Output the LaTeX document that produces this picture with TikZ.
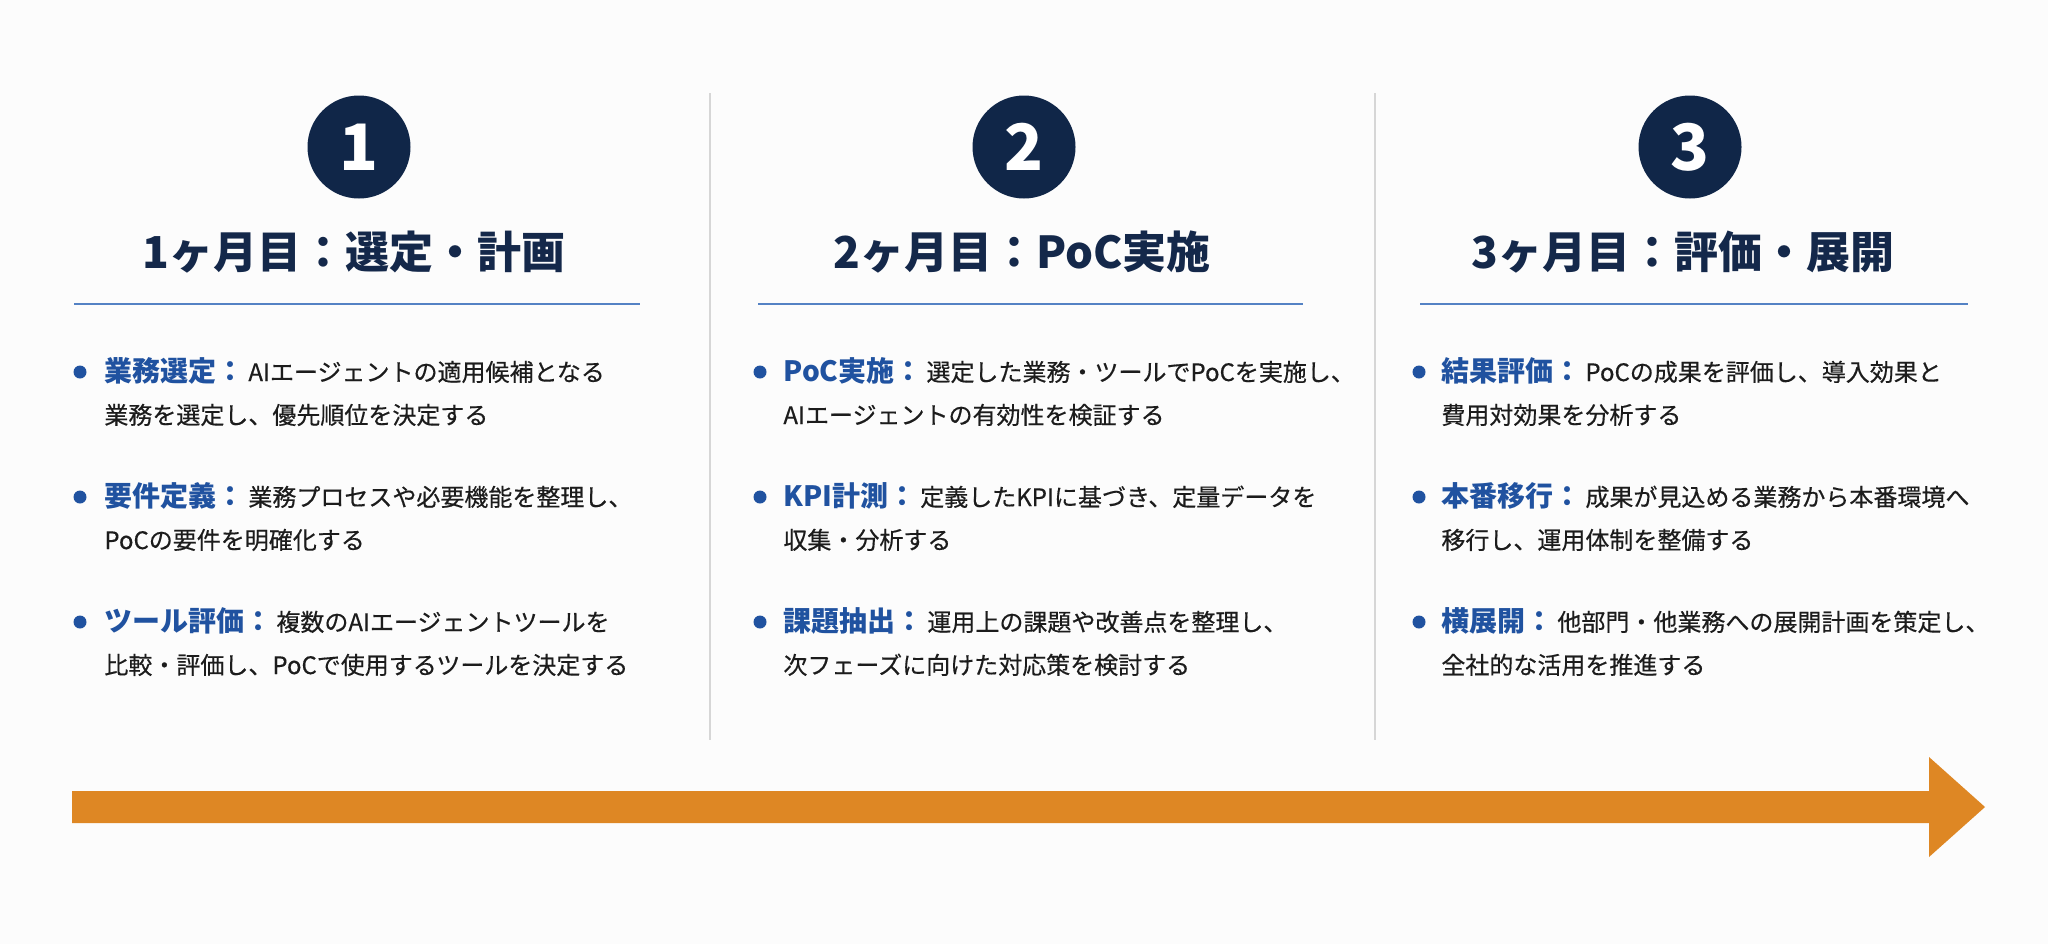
\documentclass[tikz,border=0pt]{standalone}
\usepackage{fontspec}
\setmainfont{Noto Sans CJK JP}
\newfontfamily\bodyfont{Noto Sans CJK JP}[FakeBold=0.4]
\usepackage{tikz}
\definecolor{navy}{RGB}{16,38,72}
\definecolor{titlenavy}{RGB}{20,40,74}
\definecolor{labelblue}{RGB}{32,82,160}
\definecolor{bodygray}{RGB}{28,28,28}
\definecolor{rulecol}{RGB}{84,130,196}
\definecolor{divcol}{RGB}{214,214,214}
\definecolor{arrowor}{RGB}{222,135,36}
\definecolor{bgcol}{RGB}{252,252,252}
\newcommand{\bodysize}{\fontsize{12pt}{12pt}\selectfont}
\newcommand{\headword}[1]{{\normalfont\color{labelblue}\bfseries\fontsize{14pt}{14pt}\selectfont #1}\hspace{2pt}}
\tikzstyle{phasenum}=[circle, fill=navy, text=white, inner sep=0, minimum size=51.5pt,
                      font=\fontsize{32pt}{32pt}\selectfont\bfseries]
\tikzstyle{phasetitle}=[anchor=base, inner sep=0, text=titlenavy,
                        font=\fontsize{22pt}{22pt}\selectfont\bfseries]
\tikzstyle{dot}=[circle, fill=labelblue, inner sep=0, minimum size=6.5pt]
\tikzstyle{itemtext}=[anchor=base west, inner sep=0, text=bodygray, font=\bodyfont\bodysize]
\tikzstyle{titlerule}=[draw=rulecol, line width=0.75pt]
\tikzstyle{divider}=[draw=divcol, line width=0.75pt]

\begin{document}
\begin{tikzpicture}[x=0.5pt, y=-0.5pt]
        \fill[bgcol] (0,0) rectangle (2048,944);
        \useasboundingbox (0,0) rectangle (2048,944);
        % column dividers
        \draw[divider] (710,93) -- (710,740);
        \draw[divider] (1375,93) -- (1375,740);
        % phase 1
        \node[phasenum] (N1) at (359,147) {1};
        \node[phasetitle] (T1) at (354,268) {1ヶ月目：選定・計画};
        \draw[titlerule] (74,304) -- (640,304);
        \node[dot] (B11) at (80,372) {};
        \node[itemtext] (I11) at (104,381) {\headword{業務選定：}AIエージェントの適用候補となる};
        \node[itemtext] (J11) at (104,424) {業務を選定し、優先順位を決定する};
        \node[dot] (B12) at (80,497) {};
        \node[itemtext] (I12) at (104,506) {\headword{要件定義：}業務プロセスや必要機能を整理し、};
        \node[itemtext] (J12) at (104,549) {PoCの要件を明確化する};
        \node[dot] (B13) at (80,622) {};
        \node[itemtext] (I13) at (104,631) {\headword{ツール評価：}複数のAIエージェントツールを};
        \node[itemtext] (J13) at (104,674) {比較・評価し、PoCで使用するツールを決定する};
        % phase 2
        \node[phasenum] (N2) at (1024,147) {2};
        \node[phasetitle] (T2) at (1022,268) {2ヶ月目：PoC実施};
        \draw[titlerule] (758,304) -- (1303,304);
        \node[dot] (B21) at (760,372) {};
        \node[itemtext] (I21) at (783,381) {\headword{PoC実施：}選定した業務・ツールでPoCを実施し、};
        \node[itemtext] (J21) at (783,424) {AIエージェントの有効性を検証する};
        \node[dot] (B22) at (760,497) {};
        \node[itemtext] (I22) at (783,506) {\headword{KPI計測：}定義したKPIに基づき、定量データを};
        \node[itemtext] (J22) at (783,549) {収集・分析する};
        \node[dot] (B23) at (760,622) {};
        \node[itemtext] (I23) at (783,631) {\headword{課題抽出：}運用上の課題や改善点を整理し、};
        \node[itemtext] (J23) at (783,674) {次フェーズに向けた対応策を検討する};
        % phase 3
        \node[phasenum] (N3) at (1690,147) {3};
        \node[phasetitle] (T3) at (1683,268) {3ヶ月目：評価・展開};
        \draw[titlerule] (1420,304) -- (1968,304);
        \node[dot] (B31) at (1419,372) {};
        \node[itemtext] (I31) at (1441,381) {\headword{結果評価：}PoCの成果を評価し、導入効果と};
        \node[itemtext] (J31) at (1441,424) {費用対効果を分析する};
        \node[dot] (B32) at (1419,497) {};
        \node[itemtext] (I32) at (1441,506) {\headword{本番移行：}成果が見込める業務から本番環境へ};
        \node[itemtext] (J32) at (1441,549) {移行し、運用体制を整備する};
        \node[dot] (B33) at (1419,622) {};
        \node[itemtext] (I33) at (1441,631) {\headword{横展開：}他部門・他業務への展開計画を策定し、};
        \node[itemtext] (J33) at (1441,674) {全社的な活用を推進する};
        % timeline arrow
        \fill[arrowor] (72,791) -- (1929,791) -- (1929,757) -- (1985,807)
                       -- (1929,857) -- (1929,823) -- (72,823) -- cycle;
\end{tikzpicture}
\end{document}
